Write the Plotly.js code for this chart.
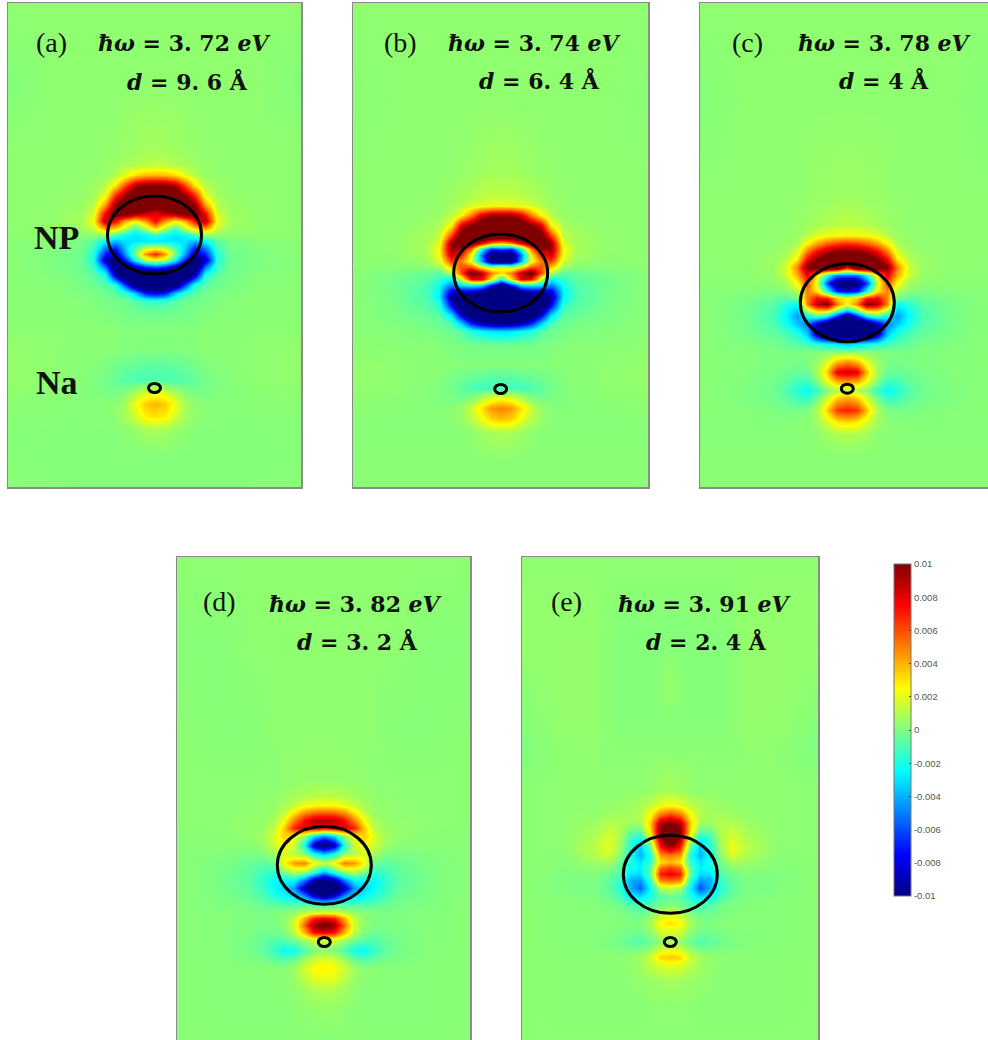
<!DOCTYPE html>
<html><head><meta charset="utf-8">
<script src="https://cdn.plot.ly/plotly-3.0.1.min.js"></script>
<style>html,body{margin:0;padding:0;background:#fff}#c{width:988px;height:1040px}</style></head>
<body><div id="c"></div><script>
const panelLabels=['(a)','(b)','(c)','(d)','(e)'];
const energies=['3. 72','3. 74','3. 78','3. 82','3. 91'];
const distances=['9. 6','6. 4','4','3. 2','2. 4'];
const colOffsets=[-147,-105,-75,-62,-50,-40,-30,-20,-10,0,10,20,30,40,50,62,75,105,147];
const rowsA=[3,80,150,165,175,185,195,205,213,221,229,235,241,248,254,260,266,275,285,293,301,312,330,350,368,380,392,404,416,430,455,487];
const fieldA=[
[.35,.3,.3,.3,.3,.3,.3,.3,.3,.3,.3,.3,.3,.3,.3,.3,.3,.3,.35],
[.05,.3,.3,.3,.3,.3,.3,.3,.3,.3,.3,.3,.3,.3,.3,.3,.3,.3,.05],
[.3,.3,.3,.3,.35,.4,.5,.6,.7,.7,.7,.6,.5,.4,.35,.3,.3,.3,.3],
[.3,.3,.3,.35,.45,.6,.8,1,1.2,1.3,1.2,1,.8,.6,.45,.35,.3,.3,.3],
[.3,.3,.3,.4,.5,.9,2,3.2,3.8,4,3.8,3.2,2,.9,.5,.4,.3,.3,.3],
[.3,.3,.35,.5,1,2.8,6,8.8,9.8,10,9.8,8.8,6,2.8,1,.5,.35,.3,.3],
[.3,.3,.4,.7,2,6.5,9.5,12,13,13,13,12,9.5,6.5,2,.7,.4,.3,.3],
[.3,.35,.5,1,4.5,9.5,13,13,12,11,12,13,13,9.5,4.5,1,.5,.35,.3],
[.3,.35,.6,1.6,7.5,11,12,10,9,8,9,10,12,11,7.5,1.6,.6,.35,.3],
[.3,.35,.7,2.2,9,7.5,4,2.5,4.5,7.5,4.5,2.5,4,7.5,9,2.2,.7,.35,.3],
[.3,.35,.5,1.3,4,3,1,-1.5,.5,3,.5,-1.5,1,3,4,1.3,.5,.35,.3],
[.25,.3,.25,.3,.3,-1,-2.5,-3,-2.5,-1.5,-2.5,-3,-2.5,-1,.3,.3,.25,.3,.25],
[.2,.15,-.1,-.7,-2.5,-4,-3,-3,-3,-3,-3,-3,-3,-4,-2.5,-.7,-.1,.15,.2],
[.2,.1,-.2,-1.2,-5,-7,-3.5,-1,1.5,2,1.5,-1,-3.5,-7,-5,-1.2,-.2,.1,.2],
[.2,0,-.3,-1.7,-7,-9,-4.5,0,4.5,7,4.5,0,-4.5,-9,-7,-1.7,-.3,0,.2],
[.2,0,-.3,-1.8,-9,-11,-7,-2.5,1,2,1,-2.5,-7,-11,-9,-1.8,-.3,0,.2],
[.2,0,-.3,-1.4,-5.5,-12,-11,-8,-6,-5,-6,-8,-11,-12,-5.5,-1.4,-.3,0,.2],
[.2,.1,-.2,-.6,-1.8,-8.5,-13,-14,-14,-14,-14,-14,-13,-8.5,-1.8,-.6,-.2,.1,.2],
[.2,.15,-.1,-.3,-.8,-1.6,-6,-11,-13,-13,-13,-11,-6,-1.6,-.8,-.3,-.1,.15,.2],
[.2,.2,0,-.1,-.3,-.7,-1.5,-3.5,-7,-8,-7,-3.5,-1.5,-.7,-.3,-.1,0,.2,.2],
[.2,.2,.15,0,-.1,-.2,-.3,-.8,-1.2,-1.5,-1.2,-.8,-.3,-.2,-.1,0,.15,.2,.2],
[.2,.2,.15,.1,0,-.1,-.2,-.3,-.4,-.4,-.4,-.3,-.2,-.1,0,.1,.15,.2,.2],
[.25,.25,.2,.2,.2,.15,.1,.1,.1,.1,.1,.1,.1,.15,.2,.2,.2,.25,.25],
[.4,.3,.2,.2,.2,.15,.1,0,0,0,0,0,.1,.15,.2,.2,.2,.3,.4],
[.4,.3,.2,.1,0,-.3,-.5,-.6,-.8,-.8,-.8,-.6,-.5,-.3,0,.1,.2,.3,.4],
[.4,.3,.15,0,-.2,-.5,-.8,-1,-1,-.9,-1,-1,-.8,-.5,-.2,0,.15,.3,.4],
[.3,.2,.1,0,-.1,-.2,.1,.8,1.6,2,1.6,.8,.1,-.2,-.1,0,.1,.2,.3],
[.25,.2,.15,.15,.2,.3,.8,2.2,3.5,4,3.5,2.2,.8,.3,.2,.15,.15,.2,.25],
[.2,.15,.15,.15,.2,.3,.7,1.6,2.8,3,2.8,1.6,.7,.3,.2,.15,.15,.15,.2],
[.15,.1,.1,.1,.1,.15,.25,.4,.7,.8,.7,.4,.25,.15,.1,.1,.1,.1,.15],
[.15,.1,.1,.1,.1,.1,.1,.1,.1,.1,.1,.1,.1,.1,.1,.1,.1,.1,.15],
[.2,.15,.1,.1,.1,.1,.1,.1,.1,.1,.1,.1,.1,.1,.1,.1,.1,.15,.2]];
const rowsB=[3,100,170,195,205,215,225,235,243,249,255,261,267,273,279,285,291,297,305,315,323,331,345,365,378,388,398,408,418,432,460,487];
const fieldB=[
[.3,.3,.3,.3,.3,.3,.3,.3,.3,.3,.3,.3,.3,.3,.3,.3,.3,.3,.3],
[.2,.3,.3,.3,.3,.3,.3,.3,.3,.3,.3,.3,.3,.3,.3,.3,.3,.3,.2],
[.3,.3,.3,.3,.35,.4,.5,.6,.7,.7,.7,.6,.5,.4,.35,.3,.3,.3,.3],
[.3,.3,.3,.4,.5,.7,.9,1.1,1.2,1.2,1.2,1.1,.9,.7,.5,.4,.3,.3,.3],
[.3,.3,.35,.45,.6,1,1.5,1.8,2,2.1,2,1.8,1.5,1,.6,.45,.35,.3,.3],
[.3,.3,.4,.5,1,2.5,5,8,9.3,9.5,9.3,8,5,2.5,1,.5,.4,.3,.3],
[.3,.3,.5,.8,2.5,8,10,12,13,13,13,12,10,8,2.5,.8,.5,.3,.3],
[.3,.35,.7,1.2,6,11,13,14,14,14,14,14,13,11,6,1.2,.7,.35,.3],
[.3,.35,.8,1.8,9.5,13,11,8,5,3.5,5,8,11,13,9.5,1.8,.8,.35,.3],
[.3,.35,.8,2.5,9.5,9,5,-2,-7,-6,-7,-2,5,9,9.5,2.5,.8,.35,.3],
[.3,.3,.7,2.3,8.5,7,2.5,-5,-11,-12,-11,-5,2.5,7,8.5,2.3,.7,.3,.3],
[.3,.25,.5,1.6,6.5,5,2,-4,-11,-12,-11,-4,2,5,6.5,1.6,.5,.25,.3],
[.25,.15,.15,.6,3.5,6,6,3,1,2.5,1,3,6,6,3.5,.6,.15,.15,.25],
[.2,-.1,-.4,-.8,1,6,11,9,5,3,5,9,11,6,1,-.8,-.4,-.1,.2],
[.2,-.25,-.7,-1.5,-2.5,1.5,7.5,8,3,-2,3,8,7.5,1.5,-2.5,-1.5,-.7,-.25,.2],
[.2,-.25,-.9,-2.2,-5,-3,-2.5,-3,-7,-11,-7,-3,-2.5,-3,-5,-2.2,-.9,-.25,.2],
[.2,-.25,-1,-2.6,-8,-8,-8,-9,-13,-14,-13,-9,-8,-8,-8,-2.6,-1,-.25,.2],
[.2,-.2,-1,-2.6,-9.5,-13,-13,-14,-14,-14,-14,-14,-13,-13,-9.5,-2.6,-1,-.2,.2],
[.2,-.15,-.8,-1.6,-7.5,-13,-14,-14,-14,-14,-14,-14,-14,-13,-7.5,-1.6,-.8,-.15,.2],
[.2,-.1,-.4,-.8,-3,-8,-12,-14,-14,-14,-14,-14,-12,-8,-3,-.8,-.4,-.1,.2],
[.2,0,-.2,-.4,-1,-3.5,-7,-9,-10,-10,-10,-9,-7,-3.5,-1,-.4,-.2,0,.2],
[.2,.1,0,-.2,-.4,-.8,-1.8,-2.5,-3,-3.2,-3,-2.5,-1.8,-.8,-.4,-.2,0,.1,.2],
[.25,.2,.15,.1,0,-.1,-.2,-.2,-.2,-.3,-.2,-.2,-.2,-.1,0,.1,.15,.2,.25],
[.4,.3,.2,.2,.15,.1,.1,.1,.1,.1,.1,.1,.1,.1,.15,.2,.2,.3,.4],
[.4,.3,.2,.1,-.1,-.3,-.5,-.7,-.8,-.8,-.8,-.7,-.5,-.3,-.1,.1,.2,.3,.4],
[.4,.3,.15,0,-.2,-.6,-1,-1.2,-1.2,-1.2,-1.2,-1.2,-1,-.6,-.2,0,.15,.3,.4],
[.3,.2,.1,0,-.1,-.2,.1,1,2,2.2,2,1,.1,-.2,-.1,0,.1,.2,.3],
[.25,.2,.15,.1,.2,.5,1.4,3,4.5,5,4.5,3,1.4,.5,.2,.1,.15,.2,.25],
[.2,.15,.15,.15,.2,.5,1.1,2.2,3.5,3.8,3.5,2.2,1.1,.5,.2,.15,.15,.15,.2],
[.15,.15,.15,.15,.15,.2,.3,.5,.8,.9,.8,.5,.3,.2,.15,.15,.15,.15,.15],
[.2,.2,.2,.2,.2,.2,.2,.2,.2,.2,.2,.2,.2,.2,.2,.2,.2,.2,.2],
[.2,.2,.2,.2,.2,.2,.2,.2,.2,.2,.2,.2,.2,.2,.2,.2,.2,.2,.2]];
const rowsC=[3,100,200,225,235,243,251,259,267,275,283,291,298,304,310,316,324,334,344,352,362,372,382,390,398,410,422,434,455,487];
const fieldC=[
[.3,.3,.3,.3,.3,.3,.3,.3,.3,.3,.3,.3,.3,.3,.3,.3,.3,.3,.3],
[.1,.3,.3,.3,.3,.3,.3,.3,.3,.3,.3,.3,.3,.3,.3,.3,.3,.3,.1],
[.3,.3,.3,.3,.35,.4,.5,.5,.6,.6,.6,.5,.5,.4,.35,.3,.3,.3,.3],
[.3,.3,.3,.35,.45,.6,.8,1,1.2,1.2,1.2,1,.8,.6,.45,.35,.3,.3,.3],
[.3,.3,.35,.4,.5,1,1.8,2.2,2.4,2.5,2.4,2.2,1.8,1,.5,.4,.35,.3,.3],
[.3,.3,.35,.4,.8,2.5,4.2,5.5,6.2,6.5,6.2,5.5,4.2,2.5,.8,.4,.35,.3,.3],
[.3,.3,.4,.6,1.6,5,7.5,9,10,10,10,9,7.5,5,1.6,.6,.4,.3,.3],
[.3,.3,.5,1,2.8,7.5,10,11.5,13,13,13,11.5,10,7.5,2.8,1,.5,.3,.3],
[.25,.3,.5,1.5,5,10,12,13,13,8,13,13,12,10,5,1.5,.5,.3,.25],
[.25,.25,.4,1.5,4,8,3,-2,-5,-5,-5,-2,3,8,4,1.5,.4,.25,.25],
[.25,.2,.3,.6,2.5,6,1.5,-6,-11,-12,-11,-6,1.5,6,2.5,.6,.3,.2,.25],
[.2,.1,0,.2,1,5,3,-2,-7,-8,-7,-2,3,5,1,.2,0,.1,.2],
[.2,-.05,-.4,-.8,-.3,5,7.5,7,3.5,2.5,3.5,7,7.5,5,-.3,-.8,-.4,-.05,.2],
[.2,-.1,-.7,-1.6,-2.5,5,9,10,5,2.5,5,10,9,5,-2.5,-1.6,-.7,-.1,.2],
[.2,-.15,-.9,-2.2,-3.5,1.5,4,4,.5,-3,.5,4,4,1.5,-3.5,-2.2,-.9,-.15,.2],
[.2,-.15,-1,-2.4,-4.5,-2.5,-1,-2.5,-7,-11,-7,-2.5,-1,-2.5,-4.5,-2.4,-1,-.15,.2],
[.2,-.15,-.9,-2,-3.5,-5,-9,-12,-14,-14,-14,-12,-9,-5,-3.5,-2,-.9,-.15,.2],
[.2,-.1,-.5,-1,-1.8,-3.5,-9,-12,-13,-13,-13,-12,-9,-3.5,-1.8,-1,-.5,-.1,.2],
[.2,0,-.2,-.5,-.8,-1.2,-1.8,-2.2,-2.8,-3.5,-2.8,-2.2,-1.8,-1.2,-.8,-.5,-.2,0,.2],
[.2,.1,0,-.1,-.1,0,.1,.2,.3,.3,.3,.2,.1,0,-.1,-.1,0,.1,.2],
[.2,.1,0,-.1,-.2,0,.5,1.8,4,4.8,4,1.8,.5,0,-.2,-.1,0,.1,.2],
[.2,.1,-.1,-.3,-.5,-.4,.8,3.5,8,8.5,8,3.5,.8,-.4,-.5,-.3,-.1,.1,.2],
[.2,0,-.2,-.6,-1.2,-1.4,0,2,3.8,4.2,3.8,2,0,-1.4,-1.2,-.6,-.2,0,.2],
[.2,0,-.3,-.9,-1.8,-2.4,-1.5,0,1,1.5,1,0,-1.5,-2.4,-1.8,-.9,-.3,0,.2],
[.2,0,-.2,-.6,-1.2,-1.5,-.2,1.5,3.5,4.2,3.5,1.5,-.2,-1.5,-1.2,-.6,-.2,0,.2],
[.2,.1,0,-.1,-.2,0,.9,3.5,6.5,7,6.5,3.5,.9,0,-.2,-.1,0,.1,.2],
[.15,.15,.1,.1,.15,.2,.6,1.6,2.8,3.2,2.8,1.6,.6,.2,.15,.1,.1,.15,.15],
[.15,.15,.15,.15,.15,.2,.3,.6,.9,1,.9,.6,.3,.2,.15,.15,.15,.15,.15],
[.2,.2,.2,.2,.2,.2,.2,.2,.2,.2,.2,.2,.2,.2,.2,.2,.2,.2,.2],
[.2,.2,.2,.2,.2,.2,.2,.2,.2,.2,.2,.2,.2,.2,.2,.2,.2,.2,.2]];
const rowsD=[557,640,730,780,795,805,812,820,828,836,845,854,863,872,880,888,896,904,912,918,925,932,940,950,960,968,978,990,1010,1040];
const fieldD=[
[.3,.3,.3,.3,.3,.3,.3,.3,.3,.3,.3,.3,.3,.3,.3,.3,.3,.3,.3],
[.15,.15,.3,.3,.3,.3,.3,.3,.3,.3,.3,.3,.3,.3,.3,.3,.3,.15,.15],
[.25,.15,.15,.2,.3,.3,.3,.3,.3,.3,.3,.3,.3,.3,.3,.2,.15,.15,.25],
[.25,.25,.25,.25,.25,.3,.35,.4,.4,.4,.4,.4,.35,.3,.25,.25,.25,.25,.25],
[.25,.25,.25,.3,.35,.5,.7,.9,1,1.1,1,.9,.7,.5,.35,.3,.25,.25,.25],
[.25,.25,.3,.35,.4,.7,1.3,2,2.4,2.5,2.4,2,1.3,.7,.4,.35,.3,.25,.25],
[.25,.25,.3,.4,.5,1.2,2.8,4.5,5.3,5.5,5.3,4.5,2.8,1.2,.5,.4,.3,.25,.25],
[.25,.25,.35,.4,.8,2.3,5,7.3,8.7,9,8.7,7.3,5,2.3,.8,.4,.35,.25,.25],
[.2,.25,.4,.5,1.2,3.5,7,8,8,7.5,8,8,7,3.5,1.2,.5,.4,.25,.2],
[.2,.2,.35,.6,1.8,3.5,2.5,.5,-3,-5,-3,.5,2.5,3.5,1.8,.6,.35,.2,.2],
[.2,.15,.25,.5,1.5,2.5,1.5,-2,-9,-11,-9,-2,1.5,2.5,1.5,.5,.25,.15,.2],
[.2,.1,-.1,0,.6,1.8,1,.3,-2,-3.5,-2,.3,1,1.8,.6,0,-.1,.1,.2],
[.2,-.05,-.4,-.7,-.3,2.5,4.5,5,2.5,1.5,2.5,5,4.5,2.5,-.3,-.7,-.4,-.05,.2],
[.2,-.1,-.6,-1.2,-1.6,0,1,.5,-1.5,-4,-1.5,.5,1,0,-1.6,-1.2,-.6,-.1,.2],
[.2,-.1,-.7,-1.5,-2.5,-2.5,-2.5,-5,-9,-11,-9,-5,-2.5,-2.5,-2.5,-1.5,-.7,-.1,.2],
[.2,-.1,-.6,-1.4,-2.5,-3.2,-4.5,-9,-13,-13,-13,-9,-4.5,-3.2,-2.5,-1.4,-.6,-.1,.2],
[.2,-.05,-.4,-1,-1.8,-2.5,-3,-4.5,-8,-10,-8,-4.5,-3,-2.5,-1.8,-1,-.4,-.05,.2],
[.2,0,-.2,-.5,-.8,-1,-1,-1,-1.2,-1.5,-1.2,-1,-1,-1,-.8,-.5,-.2,0,.2],
[.2,.1,0,-.1,0,.1,.4,.9,1.5,1.8,1.5,.9,.4,.1,0,-.1,0,.1,.2],
[.2,.1,0,-.1,0,.3,1.2,4,7,7.5,7,4,1.2,.3,0,-.1,0,.1,.2],
[.2,.1,0,-.1,-.1,.3,1.6,5.5,9.5,11,9.5,5.5,1.6,.3,-.1,-.1,0,.1,.2],
[.2,.1,-.05,-.2,-.3,0,1.2,4,7.5,8,7.5,4,1.2,0,-.3,-.2,-.05,.1,.2],
[.2,.1,-.15,-.5,-.9,-.8,-.2,.6,1.5,1.5,1.5,.6,-.2,-.8,-.9,-.5,-.15,.1,.2],
[.2,.1,-.15,-.6,-1.4,-2.4,-2.2,-1,0,.3,0,-1,-2.2,-2.4,-1.4,-.6,-.15,.1,.2],
[.2,.15,0,-.1,-.5,-.8,-.3,.7,1.6,1.9,1.6,.7,-.3,-.8,-.5,-.1,0,.15,.2],
[.2,.15,.15,.15,.2,.2,.6,1.5,2.5,2.7,2.5,1.5,.6,.2,.2,.15,.15,.15,.2],
[.2,.15,.15,.15,.2,.2,.5,1.2,1.9,2.1,1.9,1.2,.5,.2,.2,.15,.15,.15,.2],
[.2,.15,.15,.15,.15,.2,.3,.6,.9,1,.9,.6,.3,.2,.15,.15,.15,.15,.2],
[.2,.15,.15,.15,.15,.15,.2,.3,.35,.4,.35,.3,.2,.15,.15,.15,.15,.15,.2],
[.2,.2,.2,.2,.2,.2,.2,.2,.2,.2,.2,.2,.2,.2,.2,.2,.2,.2,.2]];
const rowsE=[557,640,690,720,750,790,805,815,823,831,839,847,855,862,868,874,880,888,896,905,915,923,933,942,950,957,965,980,1005,1040];
const fieldE=[
[.3,.3,.3,.3,.3,.3,.3,.3,.3,.3,.3,.3,.3,.3,.3,.3,.3,.3,.3],
[.4,.4,.4,.2,.1,.1,.1,.1,.1,.1,.1,.1,.1,.1,.1,.2,.4,.4,.4],
[.25,.4,.4,.2,.1,.1,.1,.1,.2,.5,.2,.1,.1,.1,.1,.2,.4,.4,.25],
[.15,.4,.4,.2,.1,.1,.1,.1,.1,.1,.1,.1,.1,.1,.1,.2,.4,.4,.15],
[0,.3,.3,.25,.25,.25,.25,.25,.25,.25,.25,.25,.25,.25,.25,.25,.3,.3,0],
[.25,.3,.3,.3,.3,.3,.3,.4,.6,.7,.6,.4,.3,.3,.3,.3,.3,.3,.25],
[.25,.3,.3,.4,.5,.6,.8,1.2,2,2.4,2,1.2,.8,.6,.5,.4,.3,.3,.25],
[.25,.3,.4,.6,.7,.7,1,2.5,5.5,6.5,5.5,2.5,1,.7,.7,.6,.4,.3,.25],
[.25,.3,.6,1,1,.6,.7,3.5,9,10,9,3.5,.7,.6,1,1,.6,.3,.25],
[.25,.3,.8,1.4,1,-.4,-.6,3,10,13,10,3,-.6,-.4,1,1.4,.8,.3,.25],
[.25,.3,1,1.8,.8,-1.4,-2.5,1.5,9,12.5,9,1.5,-2.5,-1.4,.8,1.8,1,.3,.25],
[.25,.25,1.2,2,.6,-1.8,-3.5,-.5,7,9.5,7,-.5,-3.5,-1.8,.6,2.2,1.2,.25,.25],
[.25,.2,1,1.6,.2,-2,-4,-2,4.5,5.2,4.5,-2,-4,-2,.2,1.8,1,.2,.25],
[.25,.15,.6,.8,-.3,-2,-3,-1.5,3,3.8,3,-1.5,-3,-2,-.3,.8,.6,.15,.25],
[.25,.1,.3,.2,-.6,-2.2,-2.8,-.8,5.5,6.5,5.5,-.8,-2.8,-2.2,-.6,.2,.3,.1,.25],
[.25,0,.1,-.2,-1,-3,-3.2,-.5,7,7.8,7,-.5,-3.2,-3,-1,-.2,.1,0,.25],
[.25,0,-.1,-.5,-1.5,-4,-4.5,-1.5,5,5.5,5,-1.5,-4.5,-4,-1.5,-.5,-.1,0,.25],
[.25,0,-.1,-.6,-1.8,-4,-5.5,-2.5,.8,1.5,.8,-2.5,-6,-4,-1.8,-.6,-.1,0,.25],
[.25,.1,0,-.4,-1.1,-2.6,-3.2,-2,-.8,-.5,-.8,-2,-3.2,-2.6,-1.1,-.4,0,.1,.25],
[.25,.15,.1,0,-.3,-.8,-1,-.8,-.2,.2,-.2,-.8,-1,-.8,-.3,0,.1,.15,.25],
[.25,.15,.15,.1,0,-.2,-.3,.2,1.4,2,1.4,.2,-.3,-.2,0,.1,.15,.15,.25],
[.25,.15,.15,.15,.1,0,.1,.8,2.6,3,2.6,.8,.1,0,.1,.15,.15,.15,.25],
[.25,.15,.1,.1,-.1,-.3,-.3,.2,1.4,1.7,1.4,.2,-.3,-.3,-.1,.1,.1,.15,.25],
[.25,.15,.1,-.1,-.3,-.7,-.9,-.4,.3,.8,.3,-.4,-.9,-.7,-.3,-.1,.1,.15,.25],
[.25,.15,.15,.1,0,-.1,0,.6,1.8,2.2,1.8,.6,0,-.1,0,.1,.15,.15,.25],
[.25,.2,.2,.2,.25,.4,.7,1.4,3.3,3.6,3.3,1.4,.7,.4,.25,.2,.2,.2,.25],
[.25,.2,.2,.2,.25,.4,.6,1.2,1.8,2,1.8,1.2,.6,.4,.25,.2,.2,.2,.25],
[.25,.2,.2,.2,.2,.25,.4,.5,.6,.7,.6,.5,.4,.25,.2,.2,.2,.2,.25],
[.25,.2,.2,.2,.2,.2,.2,.25,.3,.3,.3,.25,.2,.2,.2,.2,.2,.2,.25],
[.25,.25,.25,.25,.25,.25,.25,.25,.25,.25,.25,.25,.25,.25,.25,.25,.25,.25,.25]];
const tickValues=[-0.01,-0.008,-0.006,-0.004,-0.002,0,0.002,0.004,0.006,0.008,0.01];
const tickLabels=['-0.01','-0.008','-0.006','-0.004','-0.002','0','0.002','0.004','0.006','0.008','0.01'];

const W=988,H=1040;
const fields=[fieldA,fieldB,fieldC,fieldD,fieldE];
const rows=[rowsA,rowsB,rowsC,rowsD,rowsE];
const frames=[
 {l:8,r:301,t:3,b:487,cx:154.5,ny:235,ay:388,lx:35,ly:43,fx:97,fy:43,dx:126,dy:82},
 {l:353,r:648,t:3,b:487,cx:500.7,ny:273,ay:389,lx:383,ly:43,fx:447,fy:43,dx:478,dy:81},
 {l:700,r:988,t:3,b:487,cx:847.3,ny:302.7,ay:388.7,lx:731,ly:43,fx:797,fy:43,dx:838,dy:81},
 {l:177,r:470,t:557,b:1040,cx:324.3,ny:865.3,ay:942,lx:202,ly:601,fx:268,fy:604,dx:296,dy:642},
 {l:522,r:818,t:557,b:1040,cx:670.3,ny:874.3,ay:942,lx:550,ly:601,fx:617,fy:604,dx:645,dy:642}];
const jet=[[0,'rgb(0,0,131)'],[.125,'rgb(0,0,255)'],[.375,'rgb(0,255,255)'],[.625,'rgb(255,255,0)'],[.875,'rgb(255,0,0)'],[1,'rgb(128,0,0)']];
const data=[],shapes=[],annotations=[];
const layout={width:W,height:H,margin:{l:0,r:0,t:0,b:0,autoexpand:false},paper_bgcolor:'#fff',plot_bgcolor:'#fff',showlegend:false};
frames.forEach((f,i)=>{
  const n=i===0?'':String(i+1), xa='x'+n, ya='y'+n;
  const tr={type:'heatmap',x:colOffsets.map(o=>f.cx+o),y:rows[i],z:fields[i].map(r=>r.map(v=>v/1000)),
    xaxis:xa,yaxis:ya,colorscale:jet,zmin:-0.01,zmax:0.01,zsmooth:'best',hoverinfo:'skip',showscale:false};
  if(i===4){tr.showscale=true;tr.colorbar={x:894/W,xanchor:'left',xpad:0,y:1-896/H,yanchor:'bottom',ypad:0,
    len:332/H,lenmode:'fraction',thicknessmode:'pixels',thickness:17,outlinecolor:'#777',outlinewidth:1,
    tickmode:'array',tickvals:tickValues,ticktext:tickLabels,ticks:'inside',ticklen:2,tickcolor:'#333',
    tickfont:{family:'Liberation Sans',size:9.5,color:'#555'}};}
  data.push(tr);
  const base={showgrid:false,zeroline:false,showticklabels:false,ticks:'',showline:true,mirror:true,linecolor:'#8a8a8a',linewidth:1.5,fixedrange:true};
  layout['xaxis'+n]=Object.assign({},base,{domain:[f.l/W,f.r/W],range:[f.l,f.r],anchor:ya});
  layout['yaxis'+n]=Object.assign({},base,{domain:[1-f.b/H,1-f.t/H],range:[f.b,f.t],anchor:xa});
  shapes.push({type:'circle',xref:xa,yref:ya,x0:f.cx-47,x1:f.cx+47,y0:f.ny-39,y1:f.ny+39,line:{color:'#000',width:3}});
  shapes.push({type:'circle',xref:xa,yref:ya,x0:f.cx-6,x1:f.cx+6,y0:f.ay-4.5,y1:f.ay+4.5,line:{color:'#000',width:3}});
  const note=(x,y,text,font)=>annotations.push({xref:xa,yref:ya,x,y,text,showarrow:false,xanchor:'left',yanchor:'middle',font,align:'left',borderpad:0});
  const serif={family:'Liberation Serif',size:28,color:'#111'};
  const math={family:'DejaVu Serif',size:22,color:'#111'};
  note(f.lx,f.ly,panelLabels[i],serif);
  note(f.fx,f.fy,'<b><i>ħω</i> = '+energies[i]+' <i>eV</i></b>',math);
  note(f.dx,f.dy,'<b><i>d</i> = '+distances[i]+' Å</b>',math);
  if(i===0){
    const bold={family:'Liberation Serif',size:34,color:'#111'};
    note(33,237,'<b>NP</b>',bold);
    note(35,382,'<b>Na</b>',bold);
  }
});
layout.shapes=shapes;layout.annotations=annotations;
Plotly.newPlot('c',data,layout,{displayModeBar:false,staticPlot:true});
</script></body></html>
